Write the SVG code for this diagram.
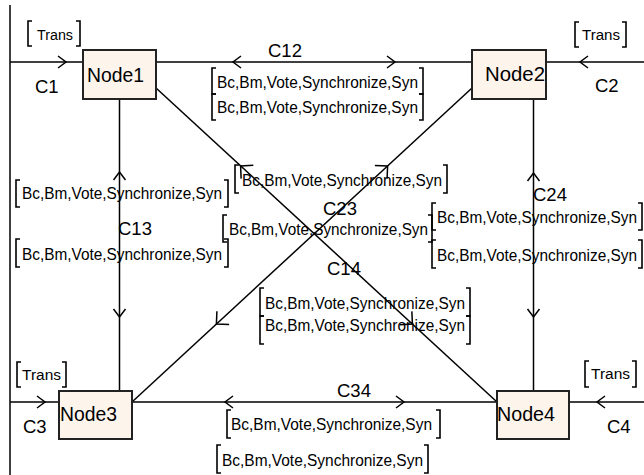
<svg xmlns="http://www.w3.org/2000/svg" xmlns:xlink="http://www.w3.org/1999/xlink" width="644" height="475" viewBox="0 0 644 475">
<style>
.ln{stroke:#000;stroke-width:1.5;fill:none}
.ar{stroke:#000;stroke-width:1.5;fill:none}
.bk{stroke:#000;stroke-width:1.6;fill:none}
.box{fill:#FDF4EC;stroke:#222;stroke-width:2}
.nt{font-family:"Liberation Sans",Arial,sans-serif;font-size:20.5px;fill:#000}
.ct{font-family:"Liberation Sans",Arial,sans-serif;font-size:18.5px;fill:#000}
.lt{font-family:"Liberation Sans",Arial,sans-serif;font-size:16px;fill:#000}
.tt{font-family:"Liberation Sans",Arial,sans-serif;font-size:14px;fill:#000}
</style>
<defs>
<path id="ch" d="M8,-6 L0,0 L8,6"/>
<path id="chd" d="M9,-9 L0,0 L9,9"/>
</defs>
<g id="connectors">
<line class="ln" x1="10" y1="5" x2="10" y2="475"/>
<line class="ln" x1="10" y1="62" x2="83" y2="62"/>
<line class="ln" x1="546" y1="62" x2="644" y2="62"/>
<line class="ln" x1="10" y1="402" x2="59" y2="402"/>
<line class="ln" x1="569" y1="402" x2="644" y2="402"/>
<line class="ln" x1="156" y1="62" x2="472" y2="62"/>
<line class="ln" x1="132" y1="402" x2="497" y2="402"/>
<line class="ln" x1="119.5" y1="99" x2="119.5" y2="391"/>
<line class="ln" x1="533.5" y1="99" x2="533.5" y2="391"/>
<line class="ln" x1="156" y1="88" x2="497" y2="402"/>
<line class="ln" x1="472" y1="88" x2="132" y2="402"/>
<g class="ar">
<use xlink:href="#ch" transform="translate(66,62) rotate(180)"/>
<use xlink:href="#ch" transform="translate(580,62)"/>
<use xlink:href="#ch" transform="translate(45,402) rotate(180)"/>
<use xlink:href="#ch" transform="translate(597,402)"/>
<use xlink:href="#ch" transform="translate(233,62)"/>
<use xlink:href="#ch" transform="translate(395,62) rotate(180)"/>
<use xlink:href="#ch" transform="translate(225,402)"/>
<use xlink:href="#ch" transform="translate(404,402) rotate(180)"/>
<use xlink:href="#ch" transform="translate(119.5,172) rotate(90)"/>
<use xlink:href="#ch" transform="translate(119.5,317) rotate(-90)"/>
<use xlink:href="#ch" transform="translate(533.5,173) rotate(90)"/>
<use xlink:href="#ch" transform="translate(533.5,317) rotate(-90)"/>
<use xlink:href="#chd" transform="translate(240.6,165.9) rotate(42.6)"/>
<use xlink:href="#chd" transform="translate(412.4,324.1) rotate(222.6)"/>
<use xlink:href="#chd" transform="translate(387.6,166) rotate(137.3)"/>
<use xlink:href="#chd" transform="translate(216.4,324) rotate(-42.7)"/>
</g>
</g>
<g id="labels">
<text class="ct" x="35" y="93">C1</text>
<text class="ct" x="595" y="92">C2</text>
<text class="ct" x="23" y="433">C3</text>
<text class="ct" x="607" y="433">C4</text>
<text class="ct" x="268" y="57">C12</text>
<text class="ct" x="118" y="235">C13</text>
<text class="ct" x="327" y="275">C14</text>
<text class="ct" x="323" y="215">C23</text>
<text class="ct" x="533" y="201">C24</text>
<text class="ct" x="337" y="397">C34</text>
<g class="bk">
<path d="M32,21 H28 V46 H32 M76,21 H80 V46 H76"/>
<path d="M579,22 H575 V47 H579 M622,22 H626 V47 H622"/>
<path d="M21,362 H17 V387 H21 M62,362 H66 V387 H62"/>
<path d="M589,361 H585 V387 H589 M632,361 H636 V387 H632"/>
<path d="M216,68 H212 V94 H216 M419,68 H423 V94 H419"/>
<path d="M216,94 H212 V120 H216 M419,94 H423 V120 H419"/>
<path d="M20,180 H16 V207 H20 M224,180 H228 V207 H224"/>
<path d="M20,239 H16 V267 H20 M224,239 H228 V267 H224"/>
<path d="M239,165 H235 V193 H239 M443,165 H447 V193 H443"/>
<path d="M227,215 H223 V242 H227 M428,215 H432 V242 H428"/>
<path d="M436,203 H432 V230 H436 M638,203 H642 V230 H638"/>
<path d="M436,240 H432 V268 H436 M638,240 H642 V268 H638"/>
<path d="M264,288 H260 V316 H264 M466,288 H470 V316 H466"/>
<path d="M264,316 H260 V344 H264 M466,316 H470 V344 H466"/>
<path d="M231,410 H227 V438 H231 M436,410 H440 V438 H436"/>
<path d="M221,445 H217 V473 H221 M424,445 H428 V473 H424"/>
</g>
<text class="tt" x="37" y="40" textLength="36" lengthAdjust="spacingAndGlyphs">Trans</text>
<text class="tt" x="582" y="40" textLength="38" lengthAdjust="spacingAndGlyphs">Trans</text>
<text class="tt" x="22" y="380" textLength="39" lengthAdjust="spacingAndGlyphs">Trans</text>
<text class="tt" x="591" y="379" textLength="39" lengthAdjust="spacingAndGlyphs">Trans</text>
<text class="lt" x="217" y="88" textLength="201" lengthAdjust="spacingAndGlyphs">Bc,Bm,Vote,Synchronize,Syn</text>
<text class="lt" x="217" y="113" textLength="201" lengthAdjust="spacingAndGlyphs">Bc,Bm,Vote,Synchronize,Syn</text>
<text class="lt" x="22" y="199" textLength="200" lengthAdjust="spacingAndGlyphs">Bc,Bm,Vote,Synchronize,Syn</text>
<text class="lt" x="22" y="260" textLength="200" lengthAdjust="spacingAndGlyphs">Bc,Bm,Vote,Synchronize,Syn</text>
<text class="lt" x="242" y="186" textLength="200" lengthAdjust="spacingAndGlyphs">Bc,Bm,Vote,Synchronize,Syn</text>
<text class="lt" x="229" y="235" textLength="199" lengthAdjust="spacingAndGlyphs">Bc,Bm,Vote,Synchronize,Syn</text>
<text class="lt" x="437" y="223" textLength="200" lengthAdjust="spacingAndGlyphs">Bc,Bm,Vote,Synchronize,Syn</text>
<text class="lt" x="437" y="261" textLength="200" lengthAdjust="spacingAndGlyphs">Bc,Bm,Vote,Synchronize,Syn</text>
<text class="lt" x="265" y="309" textLength="200" lengthAdjust="spacingAndGlyphs">Bc,Bm,Vote,Synchronize,Syn</text>
<text class="lt" x="265" y="331" textLength="200" lengthAdjust="spacingAndGlyphs">Bc,Bm,Vote,Synchronize,Syn</text>
<text class="lt" x="231" y="430" textLength="201" lengthAdjust="spacingAndGlyphs">Bc,Bm,Vote,Synchronize,Syn</text>
<text class="lt" x="222" y="466" textLength="201" lengthAdjust="spacingAndGlyphs">Bc,Bm,Vote,Synchronize,Syn</text>
</g>
<g id="Node1"><rect class="box" x="83" y="50" width="73" height="49"/><text class="nt" x="87" y="82" textLength="57" lengthAdjust="spacingAndGlyphs">Node1</text></g>
<g id="Node2"><rect class="box" x="472" y="50" width="74" height="49"/><text class="nt" x="485" y="81" textLength="60" lengthAdjust="spacingAndGlyphs">Node2</text></g>
<g id="Node3"><rect class="box" x="59" y="391" width="73" height="48"/><text class="nt" x="60" y="421" textLength="57" lengthAdjust="spacingAndGlyphs">Node3</text></g>
<g id="Node4"><rect class="box" x="497" y="391" width="72" height="48"/><text class="nt" x="497" y="421" textLength="58" lengthAdjust="spacingAndGlyphs">Node4</text></g>
</svg>
